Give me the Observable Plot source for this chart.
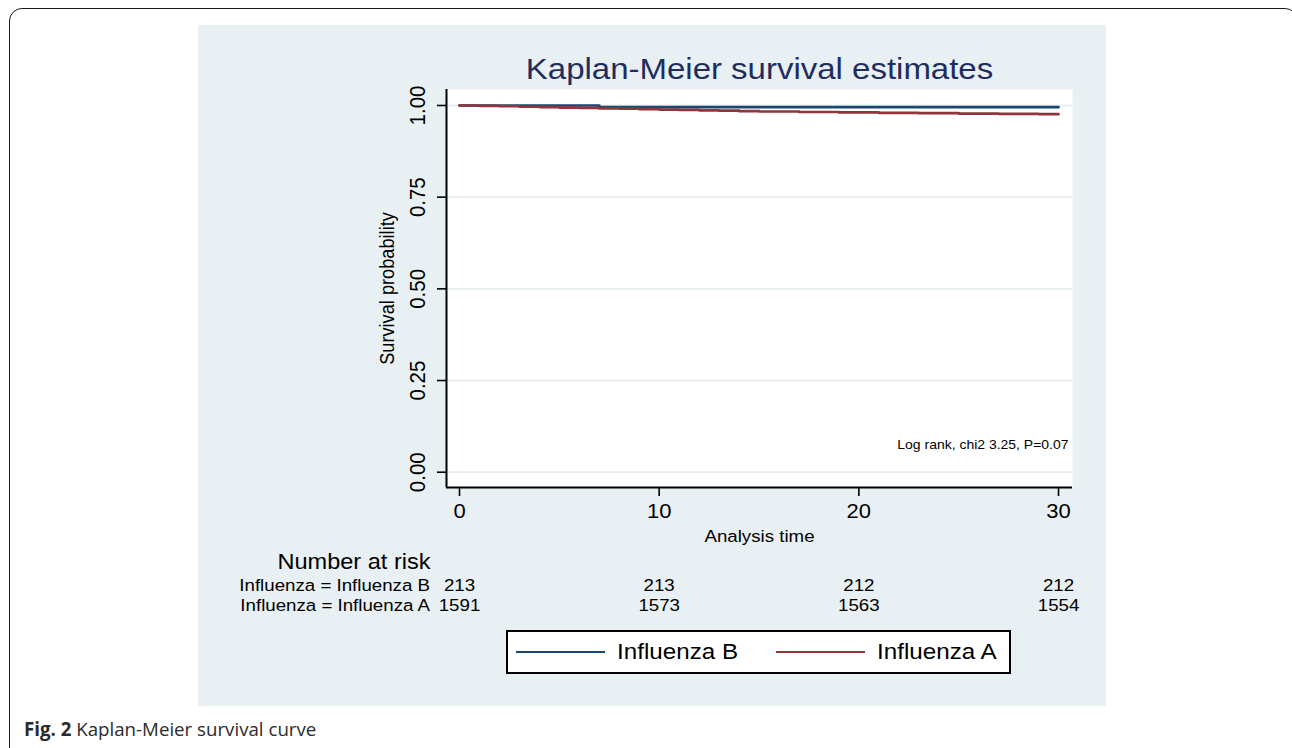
<!DOCTYPE html>
<html>
<head>
<meta charset="utf-8">
<script src="https://cdn.jsdelivr.net/npm/d3@7"></script>
<script src="https://cdn.jsdelivr.net/npm/@observablehq/plot@0.6"></script>
<style>
  html, body { margin: 0; padding: 0; background: #ffffff; overflow: hidden; width: 1292px; height: 748px; }
  #border { position: absolute; left: 9px; top: 7.5px; width: 1289px; height: 820px; box-sizing: border-box;
            border: 1.8px solid #1a1a1a; border-radius: 13px; }
  #panel { position: absolute; left: 198px; top: 25px; width: 908px; height: 681px; background: #e9f0f3; }
  #chart { position: absolute; left: 0; top: 0; }
  #legend { position: absolute; left: 506px; top: 630px; width: 505px; height: 43.5px; box-sizing: border-box;
            border: 2px solid #000; background: #fff; font-family: "Liberation Sans", Arial, sans-serif; }
  #legend .sw { position: absolute; height: 2.6px; width: 89px; top: 18.5px; }
  #legend .lb { position: absolute; top: 0; line-height: 39px; font-size: 22px; color: #000;
                display: inline-block; transform: scaleX(1.1); transform-origin: left center; white-space: nowrap; }
  #caption { position: absolute; left: 24px; top: 716.5px; font-family: "Open Sans", "Noto Sans", sans-serif;
             font-size: 18.7px; line-height: 24px; color: #2b2b2b; white-space: nowrap; }
</style>
</head>
<body>
<div id="border"></div>
<div id="panel"></div>
<div id="chart"></div>
<div id="legend"></div>
<div id="caption"><b>Fig. 2</b> Kaplan-Meier survival curve</div>
<script>
// ---- data ----
const titleText = "Kaplan-Meier survival estimates";
const xLabel = "Analysis time";
const yLabel = "Survival probability";
const noteText = "Log rank, chi2 3.25, P=0.07";
const riskTitle = "Number at risk";

const xTicks = [0, 10, 20, 30];
const yTicks = [0, 0.25, 0.5, 0.75, 1];

const seriesNames = ["Influenza B", "Influenza A"];
const seriesColors = ["#1a476f", "#90353b"];

const timesB = [0, 7, 30];
const survB  = [1, 0.9953, 0.9953];

const timesA = [0, 1, 2, 3, 4, 5, 6, 7, 8, 9, 10, 11, 12, 13, 14, 15, 17, 19, 21, 23, 25, 27, 29, 30];
const survA  = [1, 0.9988, 0.9979, 0.9966, 0.9957, 0.9944, 0.9935, 0.9921, 0.9913, 0.9900, 0.9889, 0.9880,
                0.9867, 0.9858, 0.9846, 0.9836, 0.9823, 0.9811, 0.9801, 0.9791, 0.9779, 0.9772, 0.9763, 0.9763];

const riskTimes  = [0, 10, 20, 30];
const riskB      = [213, 213, 212, 212];
const riskA      = [1591, 1573, 1563, 1554];
const riskLabels = ["Influenza = Influenza B", "Influenza = Influenza A"];

// ---- layout ----
const W = 1292, H = 748;
const xDomain = [-0.651, 30.70];
const yDomain = [-0.0417, 1.0436];
const SX = 1.1; // horizontal glyph stretch of the original figure
const FONT = "'Liberation Sans', Arial, Helvetica, sans-serif";

const curves = [
  ...timesB.map((t, i) => ({series: seriesNames[0], t, s: survB[i]})),
  ...timesA.map((t, i) => ({series: seriesNames[1], t, s: survA[i]}))
];
const rowB = riskTimes.map((t, i) => ({t, n: riskB[i]}));
const rowA = riskTimes.map((t, i) => ({t, n: riskA[i]}));

const mid = {lineAnchor: "middle"};
const RF = 17; // risk table font size

const svg = Plot.plot({
  width: W, height: H,
  marginLeft: 446, marginRight: 220, marginTop: 89, marginBottom: 261,
  x: {domain: xDomain},
  y: {domain: yDomain},
  color: {domain: seriesNames, range: seriesColors},
  style: {background: "transparent", overflow: "visible", fontFamily: FONT, color: "#000"},
  marks: [
    Plot.frame({fill: "white", stroke: "none"}),
    Plot.ruleY(yTicks, {stroke: "#e6eef1", strokeWidth: 1.8}),
    Plot.line(curves, {x: "t", y: "s", z: "series", stroke: "series", curve: "step-after", strokeWidth: 2.7}),
    Plot.ruleX([xDomain[0]], {stroke: "#000", strokeWidth: 2}),
    Plot.ruleY([yDomain[0]], {stroke: "#000", strokeWidth: 2}),
    Plot.axisY({ticks: yTicks, tickFormat: d => d.toFixed(2), tickSize: 9, tickPadding: 13, tickRotate: -90,
                fontSize: 20.5, label: null, stroke: "#000", strokeWidth: 1.6}),
    Plot.axisX({ticks: xTicks, tickFormat: d => String(d), tickSize: 9, tickPadding: 7,
                fontSize: 20, label: null, stroke: "#000", strokeWidth: 1.6}),
    Plot.text([titleText], {frameAnchor: "top", dy: -20, fontSize: 30, fill: "#1f2d5e", textAnchor: "middle", ...mid}),
    Plot.text([xLabel], {frameAnchor: "bottom", dy: 49, fontSize: 17, textAnchor: "middle", ...mid}),
    Plot.text([yLabel], {frameAnchor: "left", dx: -58.5, rotate: -90, fontSize: 18.2, textAnchor: "middle", ...mid}),
    Plot.text([noteText], {frameAnchor: "bottom-right", textAnchor: "end", dx: -4, dy: -43, fontSize: 12.7, ...mid}),
    // number at risk table
    Plot.text([{t: riskTimes[0], label: riskTitle}], {x: "t", text: "label", frameAnchor: "bottom", dy: 74.7, dx: -29,
              textAnchor: "end", fontSize: 21.4, ...mid}),
    Plot.text([{t: riskTimes[0], label: riskLabels[0]}], {x: "t", text: "label", frameAnchor: "bottom", dy: 98.3, dx: -29.5,
              textAnchor: "end", fontSize: RF, ...mid}),
    Plot.text([{t: riskTimes[0], label: riskLabels[1]}], {x: "t", text: "label", frameAnchor: "bottom", dy: 117.7, dx: -29.5,
              textAnchor: "end", fontSize: RF, ...mid}),
    Plot.text(rowB, {x: "t", text: d => String(d.n), frameAnchor: "bottom", dy: 98.3, fontSize: RF, textAnchor: "middle", ...mid}),
    Plot.text(rowA, {x: "t", text: d => String(d.n), frameAnchor: "bottom", dy: 117.7, fontSize: RF, textAnchor: "middle", ...mid})
  ]
});

// reproduce the horizontally stretched lettering of the original
svg.querySelectorAll("text").forEach(el => {
  const t = el.getAttribute("transform");
  if (!t) return;
  const rotated = /rotate\(\s*-?90\s*\)/.test(t);
  el.setAttribute("transform", t + (rotated ? ` scale(1,${SX})` : ` scale(${SX},1)`));
});
document.getElementById("chart").appendChild(svg);

// legend built from the series arrays
const legend = document.getElementById("legend");
const swLeft = [8, 268], lbLeft = [109, 369];
seriesNames.forEach((name, i) => {
  const sw = document.createElement("div");
  sw.className = "sw";
  sw.style.left = swLeft[i] + "px";
  sw.style.background = seriesColors[i];
  legend.appendChild(sw);
  const lb = document.createElement("span");
  lb.className = "lb";
  lb.style.left = lbLeft[i] + "px";
  lb.textContent = name;
  legend.appendChild(lb);
});
</script>
</body>
</html>
